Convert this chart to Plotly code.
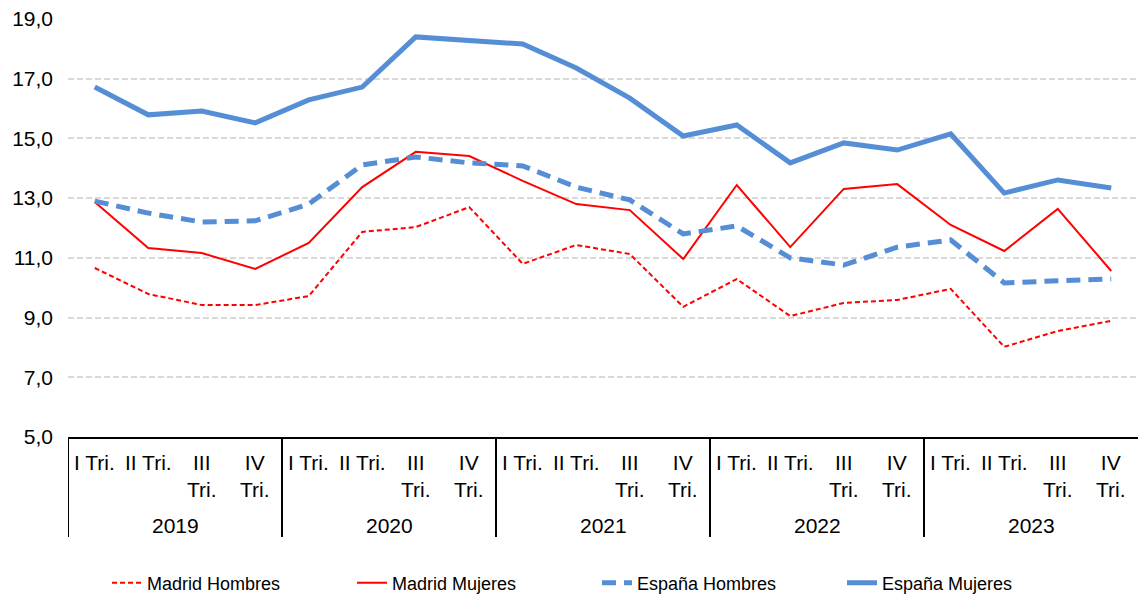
import plotly.graph_objects as go

years = ["2019", "2020", "2021", "2022", "2023"]
quarter_labels = ["I Tri.", "II Tri.", "III<br>Tri.", "IV<br>Tri."]

madrid_hombres = [10.66, 9.79, 9.42, 9.42, 9.72, 11.87, 12.03, 12.70, 10.80, 11.43,
                  11.13, 9.36, 10.29, 9.05, 9.49, 9.59, 9.96, 8.02, 8.55, 8.89]
madrid_mujeres = [12.87, 11.33, 11.16, 10.63, 11.50, 13.37, 14.55, 14.41, 13.58, 12.80,
                  12.60, 10.96, 13.44, 11.36, 13.31, 13.47, 12.10, 11.23, 12.64, 10.56]
espana_hombres = [12.90, 12.50, 12.20, 12.24, 12.80, 14.11, 14.38, 14.18, 14.08, 13.37,
                  12.94, 11.80, 12.07, 11.00, 10.76, 11.36, 11.60, 10.16, 10.23, 10.29]
espana_mujeres = [16.72, 15.79, 15.92, 15.52, 16.29, 16.72, 18.40, 18.30, 18.16, 17.36,
                  16.35, 15.08, 15.45, 14.18, 14.85, 14.61, 15.15, 13.17, 13.61, 13.34]

RED = "#FF0000"
BLUE = "#558ED5"
FONT = "Liberation Sans, Arial, sans-serif"

nq = len(quarter_labels)
n = len(years) * nq
xs = list(range(n))

fig = go.Figure()
fig.add_trace(go.Scatter(x=xs, y=madrid_hombres, name="Madrid Hombres", mode="lines",
                         line=dict(color=RED, width=2, dash="5px,3px")))
fig.add_trace(go.Scatter(x=xs, y=madrid_mujeres, name="Madrid Mujeres", mode="lines",
                         line=dict(color=RED, width=2)))
fig.add_trace(go.Scatter(x=xs, y=espana_hombres, name="España Hombres", mode="lines",
                         line=dict(color=BLUE, width=5, dash="14px,8px")))
fig.add_trace(go.Scatter(x=xs, y=espana_mujeres, name="España Mujeres", mode="lines",
                         line=dict(color=BLUE, width=5)))

plot_h = 594 - 19 - 157
div_len = 100 / plot_h

annotations = []
shapes = []
for gi, yr in enumerate(years):
    for qi, ql in enumerate(quarter_labels):
        annotations.append(dict(x=gi * nq + qi, y=0, xref="x", yref="paper", text=ql,
                                showarrow=False, yanchor="top", yshift=-12,
                                font=dict(size=21, family=FONT, color="black")))
    annotations.append(dict(x=gi * nq + (nq - 1) / 2, y=0, xref="x", yref="paper", text=yr,
                            showarrow=False, yanchor="middle", yshift=-88,
                            font=dict(size=21, family=FONT, color="black")))
    shapes.append(dict(type="line", xref="x", yref="paper", x0=gi * nq - 0.5, x1=gi * nq - 0.5,
                       y0=0, y1=-div_len, line=dict(color="black", width=2)))

fig.update_layout(
    width=1138, height=594,
    margin=dict(l=68, r=0, t=19, b=157),
    paper_bgcolor="white", plot_bgcolor="white",
    separators=",.",
    font=dict(family=FONT, size=21, color="black"),
    showlegend=True,
    legend=dict(orientation="h", xref="container", yref="container",
                x=0.5246, y=0.0185, xanchor="center", yanchor="middle",
                font=dict(size=18), entrywidth=200, entrywidthmode="pixels"),
    xaxis=dict(range=[-0.5, n - 0.5], showline=True, linecolor="black", linewidth=2,
               showgrid=False, showticklabels=False, ticks="", zeroline=False,
               automargin=False),
    yaxis=dict(range=[5, 19], dtick=2, tick0=5, tickformat=".1f",
               showgrid=True, gridcolor="#D9D9D9", gridwidth=2, griddash="6px,3px",
               zeroline=False, showline=False, ticks="", tickfont=dict(size=21),
               ticklabelstandoff=14, automargin=False),
    annotations=annotations,
    shapes=shapes,
)

fig.write_html("out.html", config={"responsive": False, "displayModeBar": False},
               post_script="document.body.style.margin='0';document.body.style.overflow='hidden';")
